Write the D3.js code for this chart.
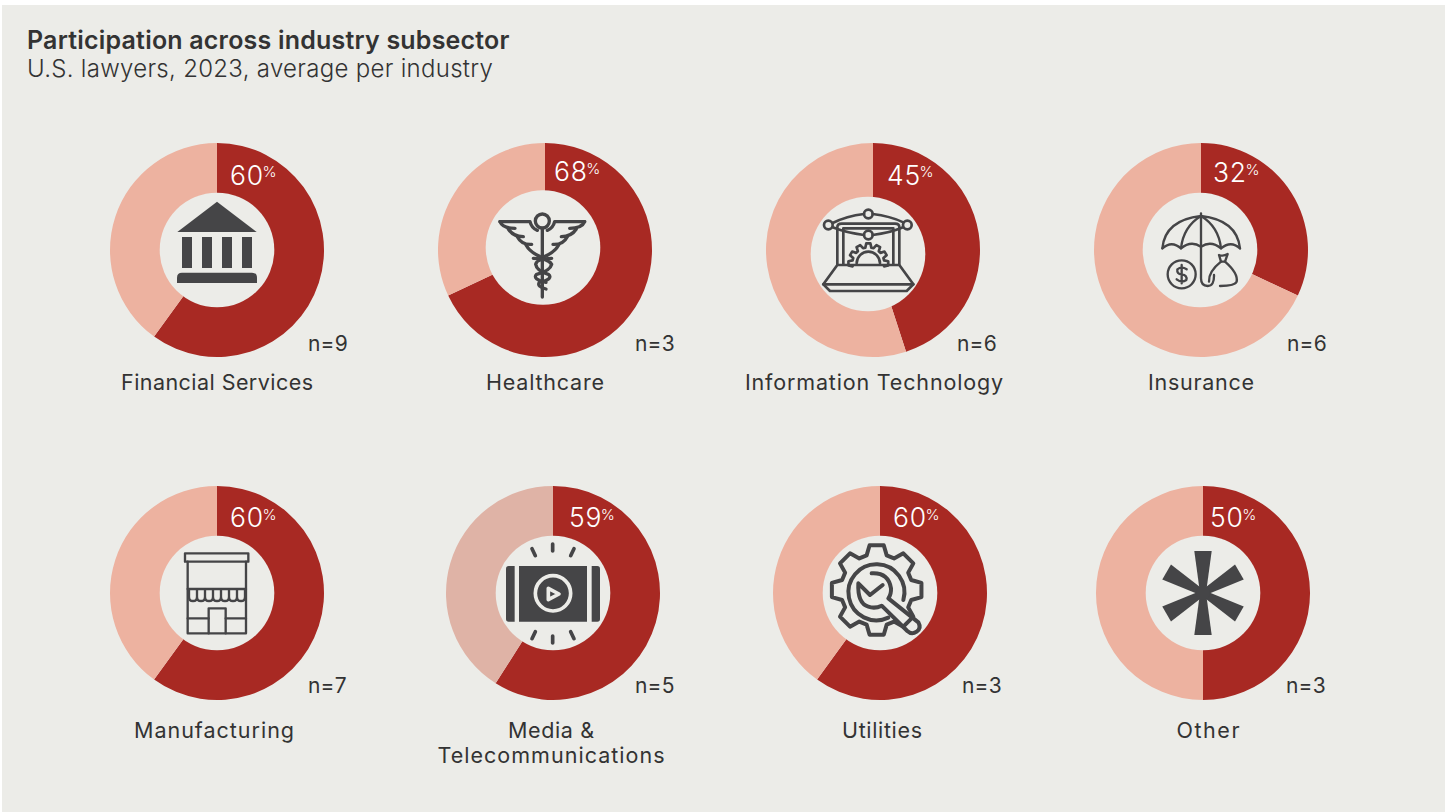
<!DOCTYPE html>
<html>
<head>
<meta charset="utf-8">
<title>Participation across industry subsector</title>
<script src="https://cdn.jsdelivr.net/npm/d3@7"></script>
<style>
  html, body { margin: 0; padding: 0; background: #fff; }
  svg { display: block; }
  text { font-family: Inter, "Open Sans", sans-serif; fill: #333; }
</style>
</head>
<body>
<div id="chart"></div>
<script>
// chart values
const subsectors = ["Financial Services", "Healthcare", "Information Technology", "Insurance",
    "Manufacturing", "Media & Telecommunications", "Utilities", "Other"];
const participation = [60, 68, 45, 32, 60, 59, 60, 50];
const sampleSizes = [9, 3, 6, 6, 7, 5, 3, 3];
const iconNames = ["bank", "caduceus", "laptop", "umbrella", "store", "media", "wrench", "asterisk"];

// layout, the donuts are not on a regular grid in the original
const width = 1445, height = 812;
const outerR = 107, holeR = 57.3;
const centerX = [217, 545, 873, 1201, 217, 553, 880, 1203];
const centerY = [250, 250, 250, 250, 593, 593, 593, 593];
// the white holes are not always centred in the ring
const holeDx = [0, -2, -5, -1, 0, 0, 0, 0];
const holeDy = [0, -2.5, 4, 0, 0, 0, 0, 0];
const pctDx = [13, 9, 14, 12, 13, 16, 13, 7];
const pctY = [184.5, 181, 184.5, 182, 527, 527, 527, 527];
const nX = [308, 635, 957, 1287, 308, 635, 962, 1286];
const nameX = [217, 545, 874, 1201, 214, 551, 882, 1208];
// widths of the name lines, the original font runs wider than Inter
const nameWidths = [[192], [118], [258], [106], [160], [86, 227], [80], [63]];

const colors = {bg: "#ecece8", dark: "#a82923", light: "#edb2a0", muted: "#dfb3a6", icon: "#454547"};

const svg = d3.select("#chart").append("svg")
    .attr("width", width)
    .attr("height", height);

svg.append("rect")
    .attr("x", 2).attr("y", 5)
    .attr("width", width - 2).attr("height", height - 5)
    .attr("fill", colors.bg);

svg.append("text")
    .attr("x", 27).attr("y", 48.5)
    .attr("font-size", 25).attr("font-weight", 600)
    .attr("letter-spacing", 0.2)
    .text("Participation across industry subsector");
svg.append("text")
    .attr("x", 27).attr("y", 77)
    .attr("font-size", 24).attr("font-weight", 300)
    .attr("letter-spacing", 0.3)
    .text("U.S. lawyers, 2023, average per industry");

const pie = d3.pie().sort(null).value(d => d);
const arc = d3.arc().innerRadius(40).outerRadius(outerR);

// small helper for the cog shapes, first and last are tooth numbers, closed when it goes all the way round
var gearPath = function (cx, cy, r1, r2, teeth, first, last) {
    let path = d3.path();
    let step = Math.PI * 2 / teeth;
    let whole = first === undefined;
    if (whole) { first = 0; last = teeth - 1; }
    for (let i = first; i <= last; i++) {
        let a = i * step - Math.PI / 2;
        let pts = [[r2, a - step * 0.36], [r1, a - step * 0.2], [r1, a + step * 0.2], [r2, a + step * 0.36]];
        pts.forEach((p, j) => {
            let x = cx + p[0] * Math.cos(p[1]);
            let y = cy + p[0] * Math.sin(p[1]);
            if (i === first && j === 0) path.moveTo(x, y);
            else path.lineTo(x, y);
        });
    }
    if (whole) path.closePath();
    return path.toString();
};

var circlePath = function (cx, cy, r) {
    let path = d3.path();
    path.arc(cx, cy, r, 0, Math.PI * 2);
    path.closePath();
    return path.toString();
};

// icons are traced at 3x, origin is the donut centre at that scale
const icons = {
    bank: {
        origin: [351, 360], strokeWidth: 0,
        fills: [
            "M351 215L470 306H232Z",
            "M246 321H276V414H246Z", "M306 321H336V414H306Z", "M366 321H396V414H366Z", "M426 321H456V414H426Z",
            "M231 459V443Q231 428 246 428H456Q471 428 471 443V459Z"
        ],
        strokes: []
    },
    caduceus: {
        origin: [195, 165], strokeWidth: 10,
        fills: [],
        strokes: [
            circlePath(187, 78, 21),
            "M187 100V306",
            "M60 80H150Q155 100 172 106", "M60 80Q68 100 105 100", "M85 102Q100 125 130 125",
            "M112 125Q125 150 155 148", "M138 150Q150 172 185 187",
            "M314 80H224Q219 100 202 106", "M314 80Q306 100 269 100", "M289 102Q274 125 244 125",
            "M262 125Q249 150 219 148", "M236 150Q224 172 189 187",
            "M215 190Q170 190 167 208Q170 228 205 238Q222 252 178 262Q170 275 198 282",
            "M160 190Q205 190 215 208Q210 228 170 238Q155 252 198 262"
        ]
    },
    laptop: {
        origin: [189, 165], strokeWidth: 8,
        fills: [],
        strokes: [
            circlePath(175, 57, 13), circlePath(55, 90, 13), circlePath(292, 90, 13), circlePath(175, 120, 13),
            "M68 84Q110 63 162 57", "M188 57Q240 63 280 82",
            "M68 97Q110 114 162 120", "M188 120Q240 114 279 97",
            "M82 208V97Q82 86 95 86H255Q268 86 268 97V208",
            "M100 208V100H250V208",
            gearPath(175, 205, 60, 48, 12, -3, 3),
            "M140 205A35 35 0 0 1 210 205",
            "M82 210L40 268L60 288H290L310 268L268 210Z",
            "M40 268H310"
        ]
    },
    umbrella: {
        origin: [168, 150], strokeWidth: 7,
        fills: [],
        strokes: [
            "M168 40V235Q168 258 188 258Q208 258 207 225",
            "M52 145Q60 60 168 48Q276 60 285 145",
            "M52 145Q80 120 108 145Q138 120 168 140Q198 120 228 145Q258 120 285 145",
            "M108 145Q115 80 168 48Q221 80 228 145",
            circlePath(110, 223, 42),
            "M125 208Q110 198 97 208Q95 222 110 223Q128 226 124 240Q110 250 95 238M110 195V250",
            "M222 165Q235 170 248 162L240 185H228Z",
            "M228 185Q190 215 192 245M240 185Q280 220 275 245Q270 258 225 258"
        ]
    },
    store: {
        origin: [156, 159], strokeWidth: 7,
        fills: [],
        strokes: [
            "M60 40H250V65H60Z",
            "M68 65V280H243V65",
            "M68 147H243",
            "M72 150V170Q72 183 84 183Q96 183 96 170V150M96 170Q96 183 108 183Q120 183 120 170V150M120 170Q120 183 132 183Q144 183 144 170V150M144 170Q144 183 156 183Q168 183 168 170V150M168 170Q168 183 180 183Q192 183 192 170V150M192 170Q192 183 204 183Q216 183 216 170V150M216 170Q216 183 228 183Q240 183 240 170V150",
            "M131 280V205H182V280",
            "M68 235H131M182 235H243"
        ]
    },
    media: {
        origin: [174, 174], strokeWidth: 11,
        fills: [
            "M41 93H59V260H41Q33 260 33 252V101Q33 93 41 93Z",
            "M72 93H276V260H72Z",
            "M290 93H307Q315 93 315 101V252Q315 260 307 260H290Z"
        ],
        strokes: [
            "M173 27V48", "M111 41L121 62", "M237 41L227 62",
            "M173 303V324", "M121 290L111 311", "M227 290L237 311"
        ],
        cutouts: [circlePath(174, 175, 53), "M160 160L192 177L160 194Z"]
    },
    wrench: {
        origin: [180, 174], strokeWidth: 12,
        fills: [],
        strokes: [
            gearPath(170, 165, 136, 108, 8),
            "M205 248A84 84 0 1 1 250 195",
            "M155 115Q205 112 213 160Q214 178 205 190L295 262Q305 280 290 290Q275 300 262 288L185 212Q165 222 145 215Q112 205 115 145L150 180L188 150"
        ]
    }
};

const donuts = svg.selectAll("g.donut")
    .data(subsectors)
    .enter()
    .append("g")
    .attr("class", "donut")
    .attr("transform", (d, i) => `translate(${centerX[i]},${centerY[i]})`);

donuts.each(function (d, i) {
    let g = d3.select(this);
    let rest = d === "Media & Telecommunications" ? colors.muted : colors.light;
    g.selectAll("path.slice")
        .data(pie([participation[i], 100 - participation[i]]))
        .enter()
        .append("path")
        .attr("class", "slice")
        .attr("d", arc)
        .attr("fill", (s, j) => j === 0 ? colors.dark : rest);
    g.append("circle")
        .attr("cx", holeDx[i])
        .attr("cy", holeDy[i])
        .attr("r", holeR)
        .attr("fill", colors.bg);
    drawIcon(g, iconNames[i]);
});

function drawIcon(g, name) {
    if (name === "asterisk") {
        // six tapered spokes
        g.selectAll("path.spoke")
            .data(d3.range(0, 360, 60))
            .enter()
            .append("path")
            .attr("class", "spoke")
            .attr("d", "M-3 0L-8.7 -42H8.7L3 0Z")
            .attr("transform", a => `rotate(${a})`)
            .attr("fill", colors.icon);
        g.append("circle").attr("r", 7).attr("fill", colors.icon);
        return;
    }
    let icon = icons[name];
    let ig = g.append("g")
        .attr("transform", `scale(${1 / 3}) translate(${-icon.origin[0]},${-icon.origin[1]})`);
    icon.fills.forEach(p => ig.append("path").attr("d", p).attr("fill", colors.icon));
    icon.strokes.forEach(p => ig.append("path")
        .attr("d", p)
        .attr("fill", "none")
        .attr("stroke", colors.icon)
        .attr("stroke-width", icon.strokeWidth)
        .attr("stroke-linecap", "round")
        .attr("stroke-linejoin", "round"));
    (icon.cutouts || []).forEach(p => ig.append("path")
        .attr("d", p)
        .attr("fill", "none")
        .attr("stroke", colors.bg)
        .attr("stroke-width", 11)
        .attr("stroke-linejoin", "round"));
}

// white value inside the ring, with the small percent sign
subsectors.forEach((d, i) => {
    let label = svg.append("text")
        .attr("x", centerX[i] + pctDx[i])
        .attr("y", pctY[i])
        .style("fill", "#fff")
        .attr("font-size", 26.5)
        .attr("font-weight", 300)
        .attr("letter-spacing", 0.8);
    label.append("tspan").text(participation[i]);
    label.append("tspan")
        .attr("dx", -1.5)
        .attr("dy", -7.5)
        .attr("font-size", 15)
        .attr("letter-spacing", 0)
        .text("%");

    svg.append("text")
        .attr("x", nX[i])
        .attr("y", i < 4 ? 351 : 693)
        .attr("font-size", 21)
        .attr("letter-spacing", 0.2)
        .text("n=" + sampleSizes[i]);

    let lines = d === "Media & Telecommunications" ? ["Media &", "Telecommunications"] : [d];
    lines.forEach((t, j) => {
        svg.append("text")
            .attr("x", nameX[i])
            .attr("y", (i < 4 ? 390 : 738) + j * 24.5)
            .attr("text-anchor", "middle")
            .attr("font-size", 21.5)
            .attr("textLength", nameWidths[i][j])
            .attr("lengthAdjust", "spacing")
            .text(t);
    });
});
</script>
</body>
</html>
